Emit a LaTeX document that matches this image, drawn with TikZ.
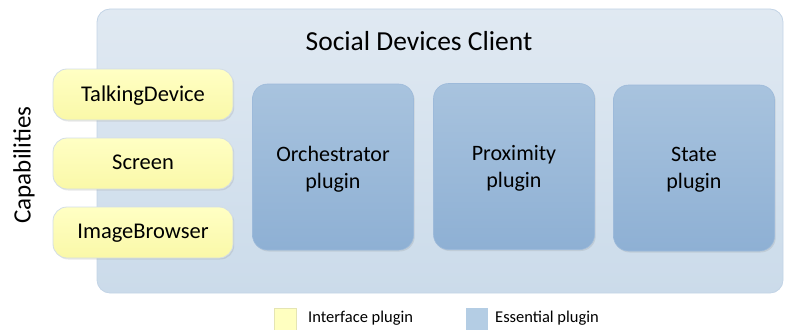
\documentclass[tikz,border=0pt]{standalone}
\usepackage{fontspec}
\setmainfont{Carlito}
\usetikzlibrary{shadows}
\definecolor{contTop}{HTML}{E0E9F2}
\definecolor{contBot}{HTML}{CBDBEA}
\definecolor{contLine}{HTML}{C3D4E6}
\definecolor{yelTop}{HTML}{FFFFC4}
\definecolor{yelBot}{HTML}{FAF8A8}
\definecolor{yelLine}{HTML}{D3DDE6}
\definecolor{bluTop}{HTML}{A8C3DE}
\definecolor{bluBot}{HTML}{8EB0D4}
\definecolor{bluLine}{HTML}{9DBADA}
\definecolor{legYel}{HTML}{FFFFC0}
\definecolor{legBlu}{HTML}{B4CDE4}
\tikzset{
  container/.style={draw=contLine, line width=0.8pt, rounded corners=13pt, top color=contTop, bottom color=contBot},
  capbox/.style={draw=yelLine, line width=0.8pt, rounded corners=14pt, top color=yelTop, bottom color=yelBot,
     minimum width=180pt, minimum height=51pt, inner sep=0pt, font=\fontsize{22.5}{26}\selectfont,
     text depth=2pt,
     drop shadow={opacity=0.18, shadow xshift=1.2pt, shadow yshift=-1.5pt}},
  plugbox/.style={draw=bluLine, line width=0.6pt, rounded corners=15pt, top color=bluTop, bottom color=bluBot,
     minimum width=161pt, minimum height=166pt, inner sep=0pt, align=center, font=\fontsize{22}{27}\selectfont,
     drop shadow={opacity=0.18, shadow xshift=1.2pt, shadow yshift=-1.5pt}},
  plugtext/.style={align=center, inner sep=0pt, font=\fontsize{22}{27}\selectfont},
  legsq/.style={minimum width=22pt, minimum height=22pt, inner sep=0pt},
  legtxt/.style={anchor=west, inner sep=0pt, font=\fontsize{16.5}{19}\selectfont},
}
\begin{document}
\begin{tikzpicture}[x=1pt, y=-1pt]
\useasboundingbox (0,0) rectangle (786,329);
\draw[container] (97,9) rectangle (783,293);
\node[font=\fontsize{27.5}{32}\selectfont] (title) at (419,41) {Social Devices Client};
\node[capbox] (talk) at (143,94.5) {TalkingDevice};
\node[capbox] (screen) at (143,163.5) {Screen};
\node[capbox] (img) at (143,232.5) {ImageBrowser};
\node[plugbox] (orch) at (333,167) {};
\node[plugtext] (orcht) at (333,169) {Orchestrator\\plugin};
\node[plugbox] (prox) at (514,166.5) {};
\node[plugtext] (proxt) at (514,168.5) {Proximity\\plugin};
\node[plugbox] (state) at (694,168) {};
\node[plugtext] (statet) at (694,170) {State\\plugin};
\node[rotate=90, font=\fontsize{25}{30}\selectfont] (cap) at (24,165) {Capabilities};
\node[legsq, fill=legYel, draw=legYel!80!gray] (ly) at (285,319) {};
\node[legtxt] (lyt) at (308,318.5) {Interface plugin};
\node[legsq, fill=legBlu] (lb) at (477,319) {};
\node[legtxt] (lbt) at (495,318.5) {Essential plugin};
\end{tikzpicture}
\end{document}
